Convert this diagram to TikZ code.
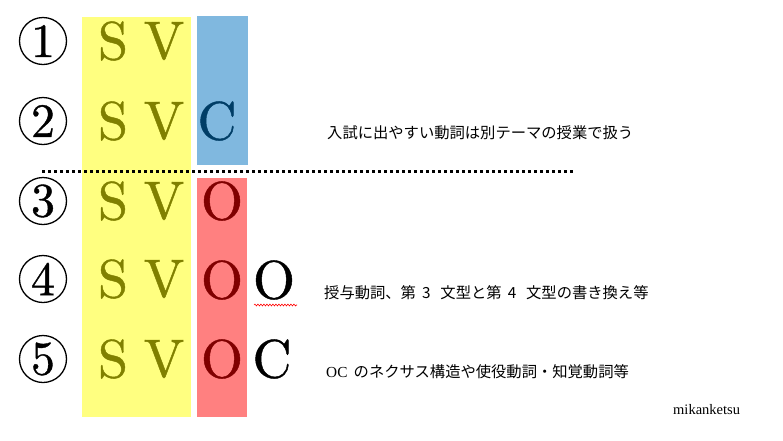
\documentclass[tikz,border=0pt]{standalone}
\usepackage{fontspec}
\newfontfamily\jpfont{Noto Sans CJK JP}
\newfontfamily\tmfont{Liberation Serif}
\newfontfamily\lmten{lmroman10-regular}[Extension=.otf, FakeBold=0.8]
\usetikzlibrary{decorations.pathmorphing}
\definecolor{ybox}{HTML}{FFFF80}
\definecolor{bbox}{HTML}{80B8DF}
\definecolor{rbox}{HTML}{FF8080}
\definecolor{olv}{HTML}{808000}
\definecolor{dblue}{HTML}{003D66}
\definecolor{dred}{HTML}{800000}
\tikzset{
  big/.style={inner sep=0pt, font=\lmten\fontsize{54}{54}\selectfont},
  num/.style={circle, draw, line width=1.3pt, minimum size=47pt, inner sep=0pt, font=\lmten\fontsize{48}{48}\selectfont},
  jp/.style={anchor=west, inner sep=0pt, font=\jpfont\fontsize{15.3}{16}\selectfont},
}
\newcommand{\hw}[1]{\makebox[1.6em][l]{\hspace{0.4em}#1}}
\begin{document}
\begin{tikzpicture}[x=1pt,y=-1pt]
\useasboundingbox (0,0) rectangle (783,440);
\fill[ybox] (82,17) rectangle (191,417);
\fill[bbox] (197,16) rectangle (248,165);
\fill[rbox] (197,178) rectangle (247,417);
\draw[line width=3pt, dash pattern=on 3pt off 3pt] (42,171.5) -- (573,171.5);
\foreach \i/\y in {1/41,2/121,3/201,4/279,5/359}{
  \node[num] (n\i) at (43,\y) {\i};
  \node[big, text=olv] (s\i) at (113,\y) {S};
  \node[big, text=olv] (v\i) at (164,\y) {V};
}
\node[big, text=dblue] (c2) at (217,121) {C};
\foreach \i/\y in {3/201,4/280,5/359}{
  \node[big, text=dred] (o\i) at (222,\y) {O};
}
\node[big] (oo4) at (274,280) {O};
\node[big] (cc5) at (272,359) {C};
\draw[red, line width=0.6pt, decorate, decoration={snake, amplitude=0.9pt, segment length=3pt}] (254,305) -- (297,305);
\node[jp] (t1) at (327,133) {入試に出やすい動詞は別テーマの授業で扱う};
\node[jp] (t2) at (324,293) {授与動詞、第\hw{3}文型と第\hw{4}文型の書き換え等};
\node[jp] (t3) at (326,372) {\makebox[1.8em][l]{\tmfont OC}のネクサス構造や使役動詞・知覚動詞等};
\node[anchor=west, inner sep=0pt, font=\tmfont\fontsize{14.5}{15}\selectfont] (mk) at (673,410) {mikanketsu};
\end{tikzpicture}
\end{document}
